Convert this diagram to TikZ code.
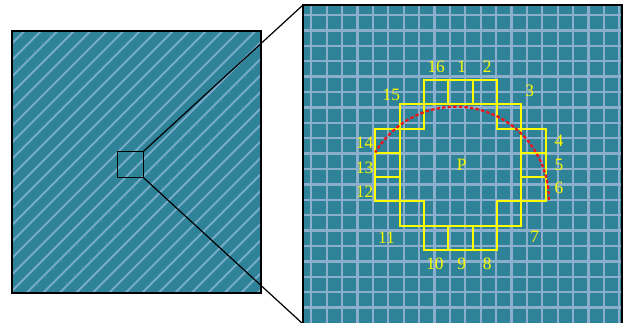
\documentclass[tikz,border=0pt]{standalone}
\usepackage{fontspec}
\setmainfont{Liberation Serif}
\usetikzlibrary{positioning,calc}
\definecolor{fastTeal}{HTML}{2E8398}
\definecolor{fastGrid}{HTML}{8AAECB}
\definecolor{fastStripe}{HTML}{78ABC9}
\definecolor{fastYellow}{HTML}{FFFF00}
\definecolor{fastRed}{HTML}{F0141A}
\tikzset{
  % image panels
  panel/.style={rectangle,draw=black,line width=1.1pt,fill=fastTeal,
    inner sep=0pt,outer sep=0pt},
  % zoom window
  zoomwin/.style={rectangle,draw=black,line width=1.1pt,
    minimum size=19.5pt,inner sep=0pt,outer sep=0pt},
  % texture lines
  stripe/.style={line width=1.5pt,color=fastStripe},
  gridline/.style={line width=1.7pt,color=fastGrid},
  % circle pixels
  cell/.style={rectangle,draw=fastYellow,line width=1.5pt,
    minimum size=18.225pt,inner sep=0pt,outer sep=0pt},
  lbl/.style={font=\fontsize{13}{15}\selectfont,text=fastYellow,inner sep=0pt},
  ringarc/.style={draw=fastRed,line width=1.7pt,dash pattern=on 2.6pt off 1.6pt},
  zoomline/.style={line width=0.9pt,color=black},
}
\begin{document}
\begin{tikzpicture}[x=0.75pt,y=0.75pt]
  \useasboundingbox (0,0) rectangle (630,322);

  % overview image
  \node[panel,minimum width=186.75pt,minimum height=196.5pt] (overview) at (136.5,160) {};
  \begin{scope}
    \clip (overview.south west) rectangle (overview.north east);
    \foreach \d in {-283,-266.5,...,250}
      \draw[stripe] (0,-\d) -- (330,330-\d);
  \end{scope}
  \draw[line width=1.1pt] (overview.south west) rectangle (overview.north east);
  \node[zoomwin] (zoombox) at (130.3,157.5) {};

  % close-up
  \node[panel,minimum width=239.25pt,minimum height=239.25pt] (closeup) at (462.5,157.5) {};
  \begin{scope}
    \clip (closeup.south west) rectangle (closeup.north east);
    \foreach \k in {0,...,20}
      \draw[gridline] ({311.3+15.4*\k},-5) -- ++(0,330);
    \foreach \k in {0,...,19}
      \draw[gridline] (300,{307-15.4*\k}) -- ++(330,0);
  \end{scope}
  \draw[line width=1.1pt] (closeup.south west) rectangle (closeup.north east);

  \draw[zoomline] (zoombox.north east) -- (closeup.north west);
  \draw[zoomline] (zoombox.south east) -- (closeup.south west);

  % Bresenham circle around p
  \coordinate (P) at (460.5,157);
  \begin{scope}[shift={(P)},x=18.225pt,y=18.225pt]
    \node[lbl] (p) at (0.05,0) {P};
    \foreach \i/\cx/\cy/\lx/\ly in {1/0/3/0.05/4.05, 2/1/3/1.1/4.05,
        3/2/2/2.85/3.05, 4/3/1/4.05/1, 5/3/0/4.05/0, 6/3/-1/4.05/-0.95,
        7/2/-2/3.05/-2.95, 8/1/-3/1.1/-4.05, 9/0/-3/0.05/-4.05,
        10/-1/-3/-1.05/-4.05, 11/-2/-2/-3.05/-3, 12/-3/-1/-3.95/-1.1,
        13/-3/0/-3.95/-0.1, 14/-3/1/-3.95/0.9, 15/-2/2/-2.85/2.9,
        16/-1/3/-1/4.05}{
      \node[cell] (c\i) at (\cx,\cy) {};
      \node[lbl] (l\i) at (\lx,\ly) {\i};
    }
    \draw[ringarc] (3.64,-1.44) arc[start angle=0,end angle=149.4,radius=3.84];
  \end{scope}
\end{tikzpicture}
\end{document}
